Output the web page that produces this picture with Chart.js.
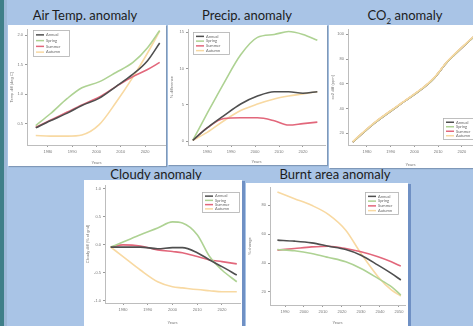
<!DOCTYPE html>
<html>
<head>
<meta charset="utf-8">
<script src="https://cdn.jsdelivr.net/npm/chart.js@4.4.1/dist/chart.umd.min.js"></script>
<style>
html, body { margin: 0; padding: 0; }
body { width: 473px; height: 326px; overflow: hidden; background: #a9c4e6; position: relative; font-family: Lato, "Open Sans", sans-serif; }
.strip { position: absolute; left: 0; top: 0; width: 4px; height: 326px; background: #3f7f88; }
.strip2 { position: absolute; left: 4px; top: 0; width: 3px; height: 326px; background: #9db8d6; }
.panel { position: absolute; background: #fff; }
.panel canvas { position: absolute; left: 0; top: 0; }
.title { position: absolute; font-size: 13px; line-height: 13px; color: #1c1c1c; white-space: nowrap; transform: translateX(-50%); }
</style>
</head>
<body>
<div class="strip"></div>
<div class="strip2"></div>

<div class="title" style="left:85px;top:9px">Air Temp. anomaly</div>
<div class="title" style="left:247px;top:9px">Precip. anomaly</div>
<div class="title" style="left:405px;top:9px">CO<sub style="font-size:8px;line-height:0">2</sub> anomaly</div>
<div class="title" style="left:156px;top:168px">Cloudy anomaly</div>
<div class="title" style="left:335px;top:168px">Burnt area anomaly</div>

<div class="panel" style="left:8px;top:25px;width:158px;height:141px;box-shadow:1px 1px 1px #7f98b8"><canvas id="tempChart" width="158" height="141"></canvas></div>
<div class="panel" style="left:168px;top:25px;width:159px;height:140px;box-shadow:1px 1px 1px #7f98b8"><canvas id="precipChart" width="159" height="140"></canvas></div>
<div class="panel" style="left:329px;top:25px;width:144px;height:143px;box-shadow:1px 1px 1px #7f98b8"><canvas id="co2Chart" width="144" height="143"></canvas></div>
<div class="panel" style="left:84px;top:180px;width:158px;height:146px;box-shadow:3px 1px 0 #6f90c4"><canvas id="cloudChart" width="158" height="146"></canvas></div>
<div class="panel" style="left:246px;top:183px;width:162px;height:143px;box-shadow:3px 1px 0 #6f90c4"><canvas id="burntChart" width="162" height="143"></canvas></div>

<script>
const seasons = ['Annual', 'Spring', 'Summer', 'Autumn'];
const seasonColors = ['#4f4f4f', '#aed293', '#e2677b', '#f8d9a2'];

// air temperature anomaly (deg C)
const tempYears = [1975, 1981, 1988, 1994, 2001, 2008, 2015, 2021, 2026];
const tempAnnual = [0.43, 0.55, 0.68, 0.81, 0.93, 1.13, 1.34, 1.57, 1.87];
const tempSpring = [0.47, 0.67, 0.93, 1.11, 1.21, 1.37, 1.54, 1.79, 2.08];
const tempSummer = [0.44, 0.56, 0.70, 0.82, 0.95, 1.13, 1.30, 1.42, 1.54];
const tempAutumn = [0.30, 0.29, 0.29, 0.31, 0.48, 0.86, 1.29, 1.70, 2.07];
const tempYTicks = [0.5, 1.0, 1.5, 2.0];
const tempXTicks = [1980, 1990, 2000, 2010, 2020];

// precipitation anomaly (%)
const precipYears = [1974, 1980, 1987, 1994, 2001, 2008, 2014, 2020, 2026];
const precipAnnual = [0.1, 1.8, 3.5, 5.1, 6.2, 6.8, 6.8, 6.6, 6.8];
const precipSpring = [0.1, 3.8, 8.0, 11.9, 14.3, 14.7, 15.1, 14.7, 13.9];
const precipSummer = [0.1, 1.8, 3.1, 3.2, 3.2, 2.8, 2.2, 2.4, 2.6];
const precipAutumn = [0.1, 1.2, 2.8, 4.2, 5.1, 5.8, 6.2, 6.5, 6.8];
const precipYTicks = [0, 5, 10, 15];
const precipXTicks = [1980, 1990, 2000, 2010, 2020];

// CO2 anomaly (ppm) - the four seasons sit on top of each other
const co2Years = [1974, 1983, 1993, 2003, 2008, 2014, 2025];
const co2Annual = [12.9, 28.0, 42.0, 55.6, 64.0, 78.0, 98.0];
const co2Spring = [12.9, 28.0, 42.0, 55.6, 64.0, 78.0, 98.0];
const co2Summer = [12.9, 28.0, 42.0, 55.6, 64.0, 78.0, 98.0];
const co2Autumn = [13.3, 28.4, 42.4, 56.0, 64.4, 78.4, 98.4];
const co2YTicks = [20, 40, 60, 80, 100];
const co2XTicks = [1980, 1990, 2000, 2010, 2020];

// cloudiness anomaly
const cloudYears = [1975, 1980, 1987, 1994, 2000, 2004, 2010, 2015, 2020, 2026];
const cloudAnnual = [-0.04, -0.04, -0.04, -0.07, -0.05, -0.05, -0.14, -0.27, -0.39, -0.54];
const cloudSpring = [-0.04, 0.05, 0.18, 0.30, 0.41, 0.39, 0.18, -0.21, -0.45, -0.66];
const cloudSummer = [-0.04, 0.0, -0.02, -0.09, -0.12, -0.14, -0.21, -0.27, -0.30, -0.34];
const cloudAutumn = [-0.04, -0.21, -0.45, -0.66, -0.75, -0.77, -0.80, -0.82, -0.84, -0.84];
const cloudYTicks = [-1.0, -0.5, 0.0, 0.5, 1.0];
const cloudXTicks = [1980, 1990, 2000, 2010, 2020];

// burnt area anomaly (% change)
const burntYears = [1986, 1995, 2004, 2013, 2022, 2030, 2039, 2046, 2051];
const burntAnnual = [55.9, 55.2, 54.0, 51.7, 49.4, 45.5, 38.6, 32.9, 28.3];
const burntSpring = [49.4, 48.5, 46.7, 43.9, 40.9, 36.3, 29.4, 23.7, 17.9];
const burntSummer = [49.0, 50.1, 51.2, 51.7, 50.1, 47.8, 44.4, 40.9, 37.9];
const burntAutumn = [89.2, 84.6, 80.0, 73.6, 62.8, 46.7, 30.6, 21.4, 17.2];
const burntYTicks = [20, 40, 60, 80];
const burntXTicks = [1990, 2000, 2010, 2020, 2030, 2040, 2050];

// small legend box drawn inside the plot, like the R output
const insetLegend = {
    id: 'insetLegend',
    afterDraw(chart, args, opts) {
        const c = chart.ctx;
        const b = opts.box;
        c.save();
        c.fillStyle = '#fff';
        c.fillRect(b[0], b[1], b[2], b[3]);
        c.strokeStyle = '#b0b0b0';
        c.lineWidth = 0.8;
        c.strokeRect(b[0] + 0.5, b[1] + 0.5, b[2] - 1, b[3] - 1);
        const step = (b[3] - 4) / 4;
        chart.data.datasets.forEach(function(ds, i) {
            const y = b[1] + 2 + step * (i + 0.5);
            c.strokeStyle = ds.borderColor;
            c.lineWidth = 1.5;
            c.beginPath();
            c.moveTo(b[0] + 3, y);
            c.lineTo(b[0] + 11, y);
            c.stroke();
            c.fillStyle = '#666';
            c.font = '4px Lato';
            c.textBaseline = 'middle';
            c.fillText(ds.label, b[0] + 13, y);
        });
        c.restore();
    }
};

function makeChart(id, p) {
    const series = [p.annual, p.spring, p.summer, p.autumn];
    const order = p.order || [0, 1, 2, 3];
    new Chart(document.getElementById(id), {
        type: 'line',
        data: {
            datasets: series.map(function(vals, i) {
                return {
                    label: seasons[i],
                    data: p.years.map(function(yr, j) { return { x: yr, y: vals[j] }; }),
                    borderColor: seasonColors[i],
                    borderWidth: 1.6,
                    pointRadius: 0,
                    cubicInterpolationMode: 'monotone',
                    fill: false,
                    order: order[i]
                };
            })
        },
        options: {
            responsive: false,
            animation: false,
            devicePixelRatio: 1,
            layout: { padding: { top: p.padTop, right: p.padRight, left: 0, bottom: 0 } },
            plugins: {
                legend: { display: false },
                tooltip: { enabled: false },
                insetLegend: { box: p.legendBox }
            },
            scales: {
                x: {
                    type: 'linear',
                    min: p.xMin,
                    max: p.xMax,
                    afterBuildTicks: function(s) { s.ticks = p.xTicks.map(function(v) { return { value: v }; }); },
                    afterFit: function(s) { s.height = p.xH; },
                    grid: { drawOnChartArea: false, tickLength: 2, color: '#999' },
                    border: { color: '#bdbdbd' },
                    ticks: { font: { size: 4 }, color: '#777', padding: 2, maxRotation: 0, autoSkip: false,
                             callback: function(v) { return String(v); } },
                    title: { display: true, text: 'Years', font: { size: 4 }, color: '#777', padding: 1 }
                },
                y: {
                    min: p.yMin,
                    max: p.yMax,
                    afterBuildTicks: function(s) { s.ticks = p.yTicks.map(function(v) { return { value: v }; }); },
                    afterFit: function(s) { s.width = p.yW; },
                    grid: { drawOnChartArea: false, tickLength: 2, color: '#999' },
                    border: { color: '#bdbdbd' },
                    ticks: { font: { size: 4 }, color: '#777', padding: 2,
                             callback: function(v) { return v.toFixed(p.yDigits); } },
                    title: { display: true, text: p.yTitle, font: { size: 4 }, color: '#777', padding: 1 }
                }
            }
        },
        plugins: [insetLegend]
    });
}

makeChart('tempChart', {
    years: tempYears, annual: tempAnnual, spring: tempSpring, summer: tempSummer, autumn: tempAutumn,
    xTicks: tempXTicks, yTicks: tempYTicks, yDigits: 1, yTitle: 'Temp diff (deg C)',
    xMin: 1971.4, xMax: 2028.6, yMin: 0.14, yMax: 2.1,
    yW: 19, xH: 21, padTop: 2, padRight: 0, legendBox: [25, 5, 37, 27]
});
makeChart('precipChart', {
    years: precipYears, annual: precipAnnual, spring: precipSpring, summer: precipSummer, autumn: precipAutumn,
    xTicks: precipXTicks, yTicks: precipYTicks, yDigits: 0, yTitle: '% difference',
    xMin: 1972, xMax: 2029.2, yMin: -0.55, yMax: 15.4,
    yW: 20, xH: 20, padTop: 2, padRight: 2, legendBox: [25, 7, 37, 23]
});
makeChart('co2Chart', {
    years: co2Years, annual: co2Annual, spring: co2Spring, summer: co2Summer, autumn: co2Autumn,
    xTicks: co2XTicks, yTicks: co2YTicks, yDigits: 0, yTitle: 'co2 diff (ppm)',
    xMin: 1972, xMax: 2024.7, yMin: 10.5, yMax: 104,
    yW: 19, xH: 23, padTop: 2, padRight: 0, legendBox: [114, 93, 36, 22],
    order: [3, 1, 2, 0]
});
makeChart('cloudChart', {
    years: cloudYears, annual: cloudAnnual, spring: cloudSpring, summer: cloudSummer, autumn: cloudAutumn,
    xTicks: cloudXTicks, yTicks: cloudYTicks, yDigits: 1, yTitle: 'Cloudy diff (% of grid)',
    xMin: 1972.7, xMax: 2027.3, yMin: -1.04, yMax: 1.07,
    yW: 21, xH: 23, padTop: 5, padRight: 2, legendBox: [118, 12, 38, 21]
});
makeChart('burntChart', {
    years: burntYears, annual: burntAnnual, spring: burntSpring, summer: burntSummer, autumn: burntAutumn,
    xTicks: burntXTicks, yTicks: burntYTicks, yDigits: 0, yTitle: '% change',
    xMin: 1982.1, xMax: 2053.2, yMin: 11, yMax: 92.4,
    yW: 24, xH: 21, padTop: 4, padRight: 3, legendBox: [119, 9, 34, 23]
});
</script>
</body>
</html>
